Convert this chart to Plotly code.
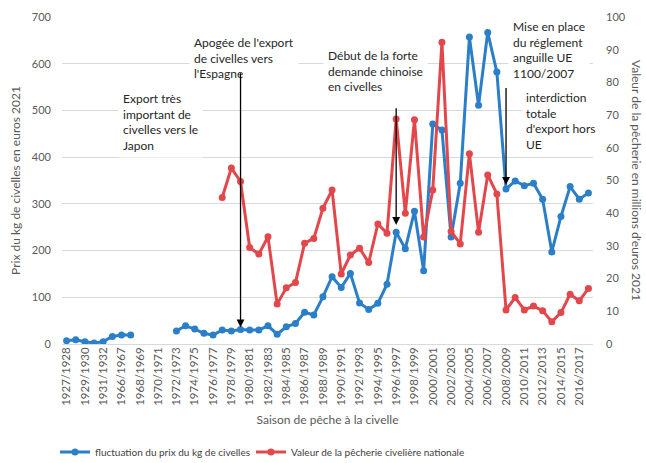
import plotly.graph_objects as go

seasons = [
    "1927/1928", "1928/1929", "1929/1930", "1930/1931", "1931/1932", "1965/1966",
    "1966/1967", "1967/1968", "1968/1969", "1969/1970", "1970/1971", "1971/1972",
    "1972/1973", "1973/1974", "1974/1975", "1975/1976", "1976/1977", "1977/1978",
    "1978/1979", "1979/1980", "1980/1981", "1981/1982", "1982/1983", "1983/1984",
    "1984/1985", "1985/1986", "1986/1987", "1987/1988", "1988/1989", "1989/1990",
    "1990/1991", "1991/1992", "1992/1993", "1993/1994", "1994/1995", "1995/1996",
    "1996/1997", "1997/1998", "1998/1999", "1999/2000", "2000/2001", "2001/2002",
    "2002/2003", "2003/2004", "2004/2005", "2005/2006", "2006/2007", "2007/2008",
    "2008/2009", "2009/2010", "2010/2011", "2011/2012", "2012/2013", "2013/2014",
    "2014/2015", "2015/2016", "2016/2017", "2017/2018",
]

prix_kg = [
    7, 9, 5, 2, 5, 16,
    19, 19, None, None, None, None,
    28, 39, 32, 23, 19, 30,
    28, 31, 30, 30, 39, 21,
    37, 44, 68, 62, 101, 144,
    121, 151, 88, 74, 87, 128,
    239, 204, 284, 157, 471, 458,
    229, 344, 657, 511, 667, 582,
    332, 349, 339, 344, 310, 197,
    273, 337, 310, 323,
]

valeur_peche = [
    None, None, None, None, None, None,
    None, None, None, None, None, None,
    None, None, None, None, None, 44.8,
    53.8, 49.7, 29.5, 27.5, 32.8, 12.2,
    17.2, 18.8, 30.8, 32.3, 41.5, 47.1,
    21.4, 27.2, 29.3, 24.9, 36.7, 33.9,
    68.8, 40.0, 68.6, 32.7, 47.1, 92.3,
    34.4, 30.6, 58.2, 34.2, 51.7, 45.9,
    10.4, 14.2, 10.4, 11.6, 10.2, 6.8,
    9.6, 15.2, 13.2, 17.0,
]

tick_labels = seasons[::2]

FONT = "Lato, 'Open Sans', sans-serif"
BLUE = "#2a7fc8"
RED = "#e2474b"
GRAY = "#595959"
GRID = "#d9d9d9"

fig = go.Figure()
fig.add_trace(go.Scatter(
    x=seasons, y=prix_kg, mode="lines+markers",
    name="fluctuation du prix du kg de civelles",
    line=dict(color=BLUE, width=3), marker=dict(color=BLUE, size=7),
    yaxis="y", legend="legend",
))
fig.add_trace(go.Scatter(
    x=seasons, y=valeur_peche, mode="lines+markers",
    name="Valeur de la pêcherie civelière nationale",
    line=dict(color=RED, width=3), marker=dict(color=RED, size=7),
    yaxis="y2", legend="legend2",
))

L, R, T, B = 62, 53, 17, 119
W, H = 646, 463
pw, ph = W - L - R, H - T - B

def px(xp):
    return (xp - L) / pw

def py(yp):
    return (H - B - yp) / ph

txt_font = dict(family=FONT, size=12, color="#262626")
annots = []
notes = [
    ("Export très<br>important de<br>civelles vers le<br>Japon", 122, 90),
    ("Apogée de l'export<br>de civelles vers<br>l'Espagne", 193, 34),
    ("Début de la forte<br>demande chinoise<br>en civelles", 327, 47),
    ("Mise en place<br>du réglement<br>anguille UE<br>1100/2007", 512, 18),
    ("interdiction<br>totale<br>d'export hors<br>UE", 525, 89),
]
pad = 4
for text, xl, yt in notes:
    annots.append(dict(
        text=text, xref="paper", yref="paper",
        x=px(xl - pad), y=py(yt - pad), xanchor="left", yanchor="top",
        align="left", showarrow=False, font=txt_font,
        bgcolor="white", borderpad=pad,
    ))

arrows = [(19, 36, 583), (36, 255, 508), (48, 341, 551)]
for xi, ytip, ytail in arrows:
    annots.append(dict(
        x=xi, y=ytip, xref="x", yref="y", ax=xi, ay=ytail, axref="x", ayref="y",
        text="", showarrow=True, arrowhead=2, arrowsize=1.2, arrowwidth=1.3,
        arrowcolor="black",
    ))

annots.append(dict(
    text="Valeur de la pêcherie en millions d'euros 2021",
    xref="paper", yref="paper", x=px(637), y=py(180),
    xanchor="center", yanchor="middle", textangle=90, showarrow=False,
    font=dict(family=FONT, size=12, color=GRAY),
))

leg_font = dict(family=FONT, size=10, color="#404040")
fig.update_layout(
    width=W, height=H,
    margin=dict(l=L, r=R, t=T, b=B, autoexpand=False),
    paper_bgcolor="white", plot_bgcolor="white",
    font=dict(family=FONT, color=GRAY),
    showlegend=True,
    legend=dict(
        orientation="h", x=px(55), y=py(452), xanchor="left", yanchor="middle",
        font=leg_font,
    ),
    legend2=dict(
        orientation="h", x=px(251), y=py(452), xanchor="left", yanchor="middle",
        font=leg_font,
    ),
    xaxis=dict(
        type="category", categoryorder="array", categoryarray=seasons,
        range=[-0.5, len(seasons) - 0.5],
        tickmode="array", tickvals=tick_labels, ticktext=tick_labels,
        tickangle=-90, tickfont=dict(family=FONT, size=11.5, color=GRAY),
        showgrid=False, showline=False, ticks="",
        title=dict(text="Saison de pêche à la civelle",
                   font=dict(family=FONT, size=12, color=GRAY), standoff=10),
    ),
    yaxis=dict(
        range=[0, 700], dtick=100, showgrid=True, gridcolor=GRID, gridwidth=1,
        zeroline=True, zerolinecolor=GRID, zerolinewidth=1,
        tickfont=dict(family=FONT, size=11, color=GRAY), ticks="",
        ticklabelstandoff=10,
        title=dict(text="Prix du kg de civelles en euros 2021",
                   font=dict(family=FONT, size=12, color=GRAY), standoff=8),
    ),
    yaxis2=dict(
        range=[0, 100], dtick=10, overlaying="y", side="right",
        showgrid=False, zeroline=False,
        tickfont=dict(family=FONT, size=11, color=GRAY), ticks="",
        ticklabelstandoff=12,
    ),
    annotations=annots,
)

fig.write_html("out.html")
